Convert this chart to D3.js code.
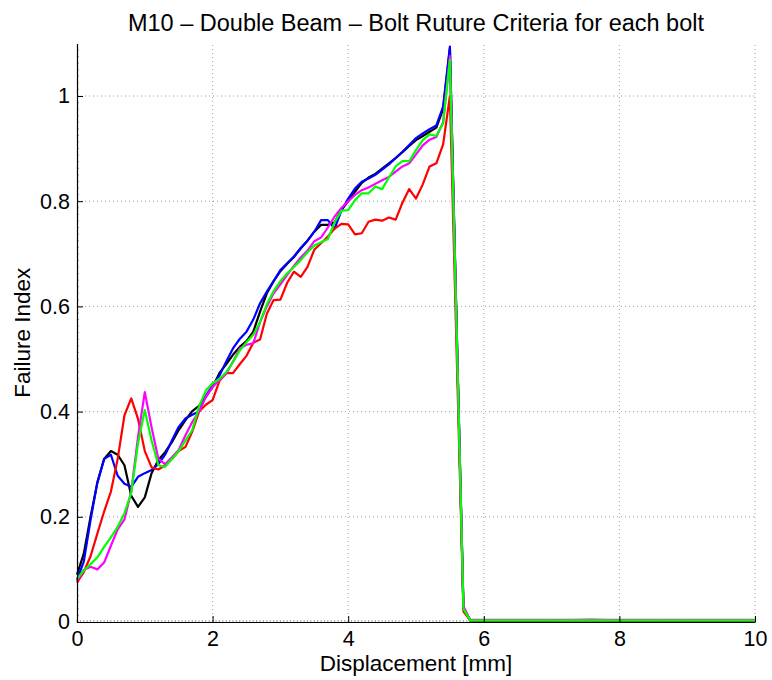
<!DOCTYPE html>
<html>
<head>
<meta charset="utf-8">
<script src="https://cdn.jsdelivr.net/npm/d3@7"></script>
<style>
  html, body { margin: 0; padding: 0; background: #fff; }
  svg { display: block; font-family: "Liberation Sans", Arial, Helvetica, sans-serif; }
</style>
</head>
<body>
<svg id="chart" width="772" height="680"></svg>
<script>
// Displacement samples (mm)
const displacement = [
  0.0, 0.1, 0.2, 0.3, 0.4, 0.5, 0.6, 0.7, 0.8, 0.9,
  1.0, 1.1, 1.2, 1.3, 1.4, 1.5, 1.6, 1.7, 1.8, 1.9,
  2.0, 2.1, 2.2, 2.3, 2.4, 2.5, 2.6, 2.7, 2.8, 2.9,
  3.0, 3.1, 3.2, 3.3, 3.4, 3.5, 3.6, 3.7, 3.8, 3.9,
  4.0, 4.1, 4.2, 4.3, 4.4, 4.5, 4.6, 4.7, 4.8, 4.9,
  5.0, 5.1, 5.2, 5.3, 5.4, 5.5, 5.6, 5.7, 5.8,
  6.0, 7.0, 7.6, 8.0, 9.0, 10.0
];

// Failure index per bolt
const boltBlack = [
  0.090, 0.130, 0.200, 0.265, 0.310, 0.325, 0.318, 0.298, 0.240, 0.219,
  0.237, 0.283, 0.308, 0.323, 0.342, 0.365, 0.384, 0.401, 0.411, 0.428,
  0.447, 0.473, 0.490, 0.508, 0.523, 0.534, 0.552, 0.590, 0.625, 0.648,
  0.667, 0.681, 0.694, 0.710, 0.725, 0.742, 0.755, 0.755, 0.760, 0.783,
  0.800, 0.818, 0.835, 0.845, 0.852, 0.862, 0.872, 0.882, 0.893, 0.905,
  0.916, 0.924, 0.932, 0.940, 0.975, 1.090, 0.557, 0.025, 0.003,
  0.003, 0.003, 0.004, 0.003, 0.003, 0.003
];
const boltBlue = [
  0.080, 0.115, 0.194, 0.265, 0.310, 0.318, 0.278, 0.263, 0.257, 0.276,
  0.283, 0.289, 0.300, 0.318, 0.345, 0.371, 0.387, 0.394, 0.400, 0.430,
  0.450, 0.468, 0.495, 0.520, 0.538, 0.552, 0.575, 0.606, 0.628, 0.648,
  0.669, 0.682, 0.695, 0.711, 0.725, 0.742, 0.764, 0.764, 0.748, 0.782,
  0.805, 0.824, 0.837, 0.843, 0.850, 0.860, 0.870, 0.882, 0.894, 0.907,
  0.920, 0.929, 0.937, 0.944, 0.980, 1.094, 0.560, 0.025, 0.003,
  0.003, 0.003, 0.003, 0.003, 0.003, 0.003
];
const boltRed = [
  0.075, 0.095, 0.125, 0.168, 0.210, 0.248, 0.310, 0.393, 0.425, 0.386,
  0.325, 0.294, 0.290, 0.298, 0.310, 0.325, 0.333, 0.362, 0.400, 0.413,
  0.422, 0.458, 0.473, 0.473, 0.490, 0.506, 0.531, 0.537, 0.586, 0.612,
  0.613, 0.645, 0.666, 0.656, 0.675, 0.708, 0.720, 0.733, 0.748, 0.757,
  0.756, 0.737, 0.739, 0.761, 0.765, 0.763, 0.769, 0.765, 0.797, 0.823,
  0.805, 0.832, 0.866, 0.872, 0.908, 1.000, 0.510, 0.020, 0.003,
  0.003, 0.003, 0.003, 0.003, 0.003, 0.003
];
const boltMagenta = [
  0.078, 0.099, 0.105, 0.100, 0.113, 0.145, 0.176, 0.195, 0.248, 0.352,
  0.437, 0.370, 0.310, 0.300, 0.313, 0.327, 0.355, 0.380, 0.400, 0.428,
  0.447, 0.460, 0.472, 0.495, 0.520, 0.527, 0.530, 0.570, 0.600, 0.625,
  0.642, 0.660, 0.677, 0.693, 0.706, 0.724, 0.731, 0.750, 0.771, 0.787,
  0.800, 0.812, 0.821, 0.826, 0.833, 0.840, 0.846, 0.856, 0.866, 0.872,
  0.889, 0.906, 0.917, 0.922, 0.950, 1.076, 0.550, 0.030, 0.004,
  0.004, 0.004, 0.004, 0.004, 0.004, 0.004
];
const boltGreen = [
  0.082, 0.098, 0.110, 0.123, 0.143, 0.161, 0.181, 0.207, 0.245, 0.340,
  0.403, 0.345, 0.298, 0.295, 0.310, 0.325, 0.345, 0.365, 0.410, 0.440,
  0.454, 0.462, 0.475, 0.494, 0.516, 0.532, 0.546, 0.570, 0.604, 0.629,
  0.648, 0.663, 0.675, 0.688, 0.703, 0.716, 0.722, 0.728, 0.760, 0.782,
  0.783, 0.802, 0.815, 0.815, 0.828, 0.823, 0.845, 0.866, 0.876, 0.876,
  0.897, 0.916, 0.927, 0.924, 0.948, 1.069, 0.550, 0.025, 0.003,
  0.003, 0.003, 0.003, 0.003, 0.003, 0.003
];

const xTicks = [0, 2, 4, 6, 8, 10];
const yTicks = [0, 0.2, 0.4, 0.6, 0.8, 1];

const seriesList = [
  { values: boltBlack,   color: "#000000" },
  { values: boltBlue,    color: "#0000ff" },
  { values: boltRed,     color: "#ff0000" },
  { values: boltMagenta, color: "#ff00ff" },
  { values: boltGreen,   color: "#00ff00" }
];

const svg = d3.select("#chart");
const plotLeft = 77, plotRight = 755, plotTop = 43.4, plotBottom = 622;
const labelFont = "Liberation Sans, Arial, sans-serif";

const x = d3.scaleLinear().domain([0, 10]).range([plotLeft, plotRight]);
const y = d3.scaleLinear().domain([0, 1.1]).range([plotBottom, plotTop]);

// dotted grid
const grid = svg.append("g");
grid.selectAll("line.gx").data(xTicks.filter(d => d > 0)).join("line")
  .attr("x1", d => x(d)).attr("x2", d => x(d))
  .attr("y1", plotBottom).attr("y2", plotTop)
  .attr("stroke", "#a0a0a0").attr("stroke-width", 1)
  .attr("stroke-dasharray", "1,3");
grid.selectAll("line.gy").data(yTicks.filter(d => d > 0)).join("line")
  .attr("x1", plotLeft).attr("x2", plotRight)
  .attr("y1", d => y(d)).attr("y2", d => y(d))
  .attr("stroke", "#a0a0a0").attr("stroke-width", 1)
  .attr("stroke-dasharray", "1,3");

// minor ticks along the axes
const minorX = d3.range(0, 10.0001, 0.05);
const minorY = d3.range(0, 1.1, 0.0125);
const minor = svg.append("g").attr("stroke", "#666").attr("stroke-width", 0.6);
minor.selectAll("line.mx").data(minorX).join("line")
  .attr("x1", d => x(d)).attr("x2", d => x(d))
  .attr("y1", plotBottom).attr("y2", plotBottom - 2);
minor.selectAll("line.my").data(minorY).join("line")
  .attr("x1", plotLeft).attr("x2", plotLeft + 2)
  .attr("y1", d => y(d)).attr("y2", d => y(d));

// curves
const line = d3.line()
  .x((d, i) => x(displacement[i]))
  .y(d => y(d));
svg.append("g").selectAll("path").data(seriesList).join("path")
  .attr("d", s => line(s.values))
  .attr("fill", "none")
  .attr("stroke", s => s.color)
  .attr("stroke-width", 2.2)
  .attr("stroke-linejoin", "round");

// axes (ticks drawn inward)
const xAxis = d3.axisBottom(x).tickValues(xTicks).tickFormat(d3.format("d"))
  .tickSizeInner(-6).tickSizeOuter(0).tickPadding(9);
const gx = svg.append("g").attr("transform", `translate(0,${plotBottom})`).call(xAxis);
gx.select(".domain").attr("stroke", "#000").attr("stroke-width", 1.2);
gx.selectAll(".tick line").attr("stroke", "#000");
gx.selectAll(".tick text").attr("font-size", 21.5).attr("fill", "#000")
  .attr("font-family", labelFont);

const yAxis = d3.axisLeft(y).tickValues(yTicks)
  .tickFormat(d => d === 0 || d === 1 ? d3.format("d")(d) : d3.format(".1f")(d))
  .tickSizeInner(-6).tickSizeOuter(0).tickPadding(7);
const gy = svg.append("g").attr("transform", `translate(${plotLeft},0)`).call(yAxis);
gy.select(".domain").attr("stroke", "#000").attr("stroke-width", 1.2);
gy.selectAll(".tick line").attr("stroke", "#000");
gy.selectAll(".tick text").attr("font-size", 21.5).attr("fill", "#000")
  .attr("font-family", labelFont);

// title and axis labels
svg.append("text")
  .attr("x", (plotLeft + plotRight) / 2).attr("y", 31)
  .attr("text-anchor", "middle").attr("font-size", 23.5)
  .text("M10 \u2013 Double Beam \u2013 Bolt Ruture Criteria for each bolt");

svg.append("text")
  .attr("x", (plotLeft + plotRight) / 2).attr("y", 671)
  .attr("text-anchor", "middle").attr("font-size", 22.5)
  .text("Displacement [mm]");

svg.append("text")
  .attr("transform", `translate(30,${(plotTop + plotBottom) / 2}) rotate(-90)`)
  .attr("text-anchor", "middle").attr("font-size", 22.5)
  .text("Failure Index");
</script>
</body>
</html>
